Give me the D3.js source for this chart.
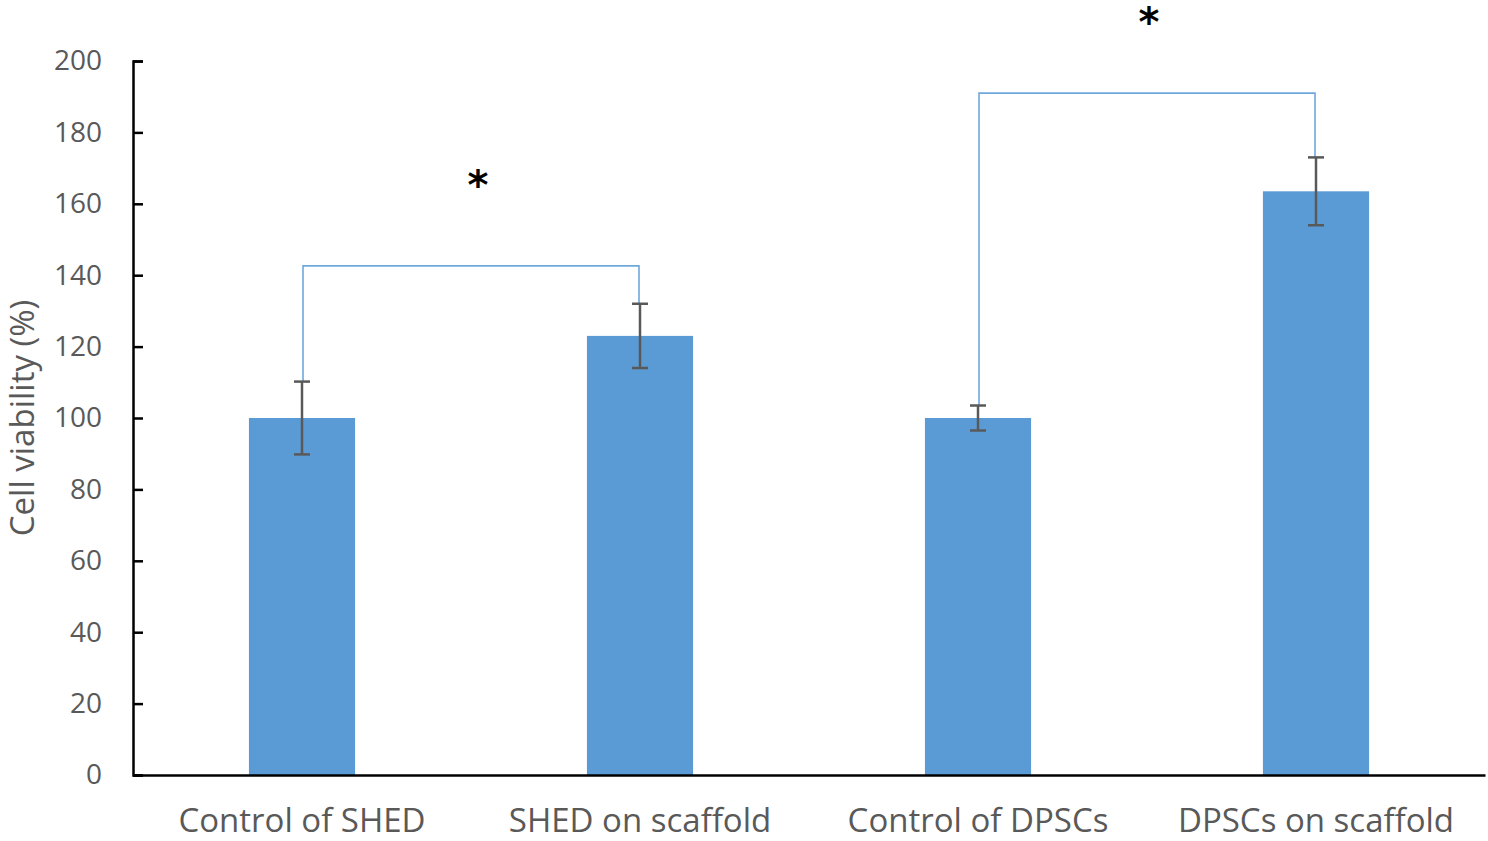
<!DOCTYPE html>
<html>
<head>
<meta charset="utf-8">
<script src="https://cdn.jsdelivr.net/npm/d3@7"></script>
<style>
  body { margin: 0; background: #fff; }
</style>
</head>
<body>
<div id="chart"></div>
<script>
// data
var categories = ["Control of SHED", "SHED on scaffold", "Control of DPSCs", "DPSCs on scaffold"];
var values = [100, 123, 100, 163.5];
var errors = [10.2, 9, 3.5, 9.5];
var yTicks = [0, 20, 40, 60, 80, 100, 120, 140, 160, 180, 200];
// significance brackets: from category index a to b, drawn at level y
var brackets = [
  {a: 0, b: 1, level: 142.6, star: 167},
  {a: 2, b: 3, level: 191, star: 212.5}
];

var width = 1488, height = 841;
var margin = {top: 61, right: 3, bottom: 66, left: 133};
var widthG = width - margin.left - margin.right;
var heightG = height - margin.top - margin.bottom;

var font = "'Open Sans', 'Noto Sans', sans-serif";
var textGrey = "#595959";

var svg = d3.select("#chart").append("svg")
  .attr("width", width)
  .attr("height", height);

var g = svg.append("g")
  .attr("transform", "translate(" + margin.left + "," + margin.top + ")");

// scales
var xc = d3.scaleBand().domain(categories).range([0, widthG]);

var y = d3.scaleLinear()
  .domain([0, 200])
  .range([heightG, 0]);

function cx(i) { return xc(categories[i]) + xc.bandwidth() / 2; }
var barW = xc.bandwidth() * 0.314;

// bars
g.selectAll(".bar")
  .data(values)
  .enter()
  .append("rect")
  .attr("class", "bar")
  .attr("x", function(d, i) { return cx(i) - barW / 2; })
  .attr("width", barW)
  .attr("y", function(d) { return y(d); })
  .attr("height", function(d) { return y(0) - y(d); })
  .style("fill", "#5B9BD5");

// brackets
g.selectAll(".bracket")
  .data(brackets)
  .enter()
  .append("path")
  .attr("class", "bracket")
  .attr("d", function(d) {
    var x1 = cx(d.a) + 1, x2 = cx(d.b) - 1;
    return "M" + x1 + "," + y(values[d.a] + errors[d.a]) +
      "V" + y(d.level) + "H" + x2 + "V" + y(values[d.b] + errors[d.b]);
  })
  .attr("fill", "none")
  .attr("stroke", "#6FA8DC")
  .attr("stroke-width", 1.6);

// stars
g.selectAll(".star")
  .data(brackets)
  .enter()
  .append("text")
  .attr("class", "star")
  .attr("x", function(d) { return (cx(d.a) + cx(d.b)) / 2 + (d.a === 0 ? 7 : 2); })
  .attr("y", function(d) { return y(d.star) + 20; })
  .attr("text-anchor", "middle")
  .style("font-family", "'DejaVu Sans', sans-serif")
  .style("font-size", "40px")
  .style("font-weight", "bold")
  .style("fill", "#000")
  .text("*");

// error bars
var errG = g.selectAll(".err")
  .data(values)
  .enter()
  .append("g")
  .attr("class", "err")
  .attr("stroke", "#595959")
  .attr("stroke-width", 2.5);

errG.append("line")
  .attr("x1", function(d, i) { return cx(i); })
  .attr("x2", function(d, i) { return cx(i); })
  .attr("y1", function(d, i) { return y(d + errors[i]); })
  .attr("y2", function(d, i) { return y(d - errors[i]); });

errG.append("line")
  .attr("x1", function(d, i) { return cx(i) - 8; })
  .attr("x2", function(d, i) { return cx(i) + 8; })
  .attr("y1", function(d, i) { return y(d + errors[i]); })
  .attr("y2", function(d, i) { return y(d + errors[i]); });

errG.append("line")
  .attr("x1", function(d, i) { return cx(i) - 8; })
  .attr("x2", function(d, i) { return cx(i) + 8; })
  .attr("y1", function(d, i) { return y(d - errors[i]); })
  .attr("y2", function(d, i) { return y(d - errors[i]); });

// y axis
var yAxis = d3.axisLeft(y)
  .tickValues(yTicks)
  .tickSizeInner(-10)
  .tickSizeOuter(-10)
  .tickPadding(31);

var gy = g.append("g")
  .attr("class", "y axis")
  .call(yAxis);

gy.select(".domain").attr("stroke", "#000").attr("stroke-width", 2.5);
gy.selectAll(".tick line").attr("stroke", "#000").attr("stroke-width", 2.5);
gy.selectAll("text")
  .style("font-family", font)
  .style("font-size", "28px")
  .style("fill", textGrey);

// x axis
var xAxis = d3.axisBottom(xc).tickSize(0).tickPadding(34);

var gx = g.append("g")
  .attr("class", "x axis")
  .attr("transform", "translate(0," + heightG + ")")
  .call(xAxis);

gx.select(".domain").attr("stroke", "#000").attr("stroke-width", 2.5);
gx.selectAll("text")
  .style("font-family", font)
  .style("font-size", "33px")
  .style("fill", textGrey);

// y axis title
g.append("text")
  .attr("transform", "rotate(-90)")
  .attr("x", -heightG / 2)
  .attr("y", -99)
  .attr("text-anchor", "middle")
  .style("font-family", font)
  .style("font-size", "33px")
  .style("fill", textGrey)
  .text("Cell viability (%)");
</script>
</body>
</html>
